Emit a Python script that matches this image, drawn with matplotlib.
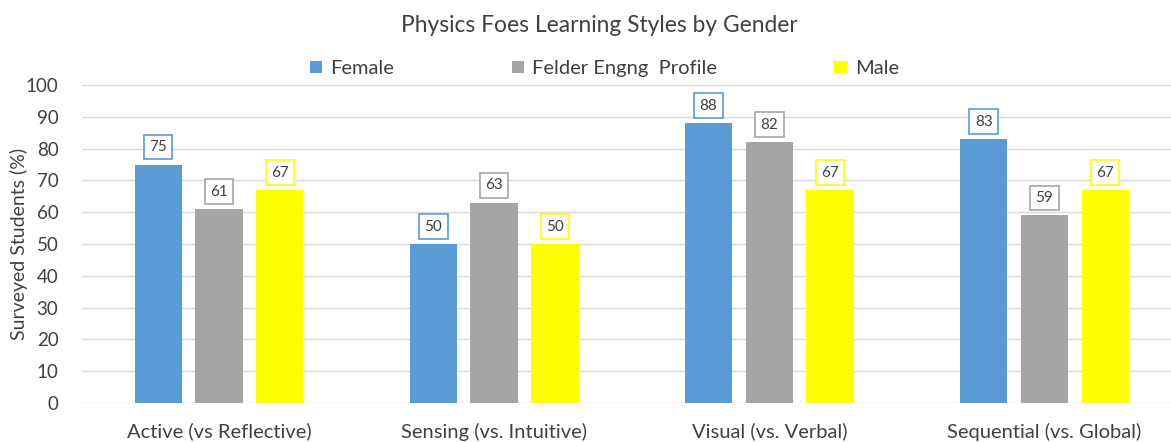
import numpy as np
import matplotlib.pyplot as plt

categories = ['Active (vs Reflective)', 'Sensing (vs. Intuitive)',
              'Visual (vs. Verbal)', 'Sequential (vs. Global)']
female = [75, 50, 88, 83]
felder = [61, 63, 82, 59]
male = [67, 50, 67, 67]
series_names = ['Female', 'Felder Engng  Profile', 'Male']
colors = ['#5b9bd5', '#a5a5a5', '#ffff00']

plt.rcParams['font.family'] = ['Lato', 'DejaVu Sans']

fig = plt.figure(figsize=(11.71, 4.42), dpi=100)
ax = fig.add_axes([82 / 1171, 39 / 442, 1 - 82 / 1171, 318 / 442])

x = np.arange(len(categories))
w = 0.172
off = 0.221
for i, (vals, name, c) in enumerate(zip([female, felder, male], series_names, colors)):
    pos = x + (i - 1) * off
    ax.bar(pos, vals, width=w, color=c, label=name, zorder=2)
    for px, v in zip(pos, vals):
        ax.annotate(str(v), (px, v), xytext=(0, 7.5), textcoords='offset points',
                    ha='center', va='bottom', fontsize=11, color='#404040',
                    bbox=dict(boxstyle='square,pad=0.35', fc='white', ec=c, lw=1.2))

ax.set_xlim(-0.498, 3.46)
ax.set_ylim(0, 100)
ax.set_yticks(range(0, 101, 10))
ax.set_xticks(x)
ax.set_xticklabels(categories, fontsize=14.5, color='#404040')
ax.tick_params(axis='y', labelsize=13.5, colors='#404040', length=0, pad=17)
ax.tick_params(axis='x', length=0, pad=14)
ax.grid(axis='y', color='#d9d9d9', lw=1, zorder=0)
for s in ax.spines.values():
    s.set_visible(False)
ax.set_ylabel('Surveyed Students (%)', fontsize=14, color='#404040')
ax.yaxis.set_label_coords(-0.0495, 0.5)

fig.suptitle('Physics Foes Learning Styles by Gender', x=0.5115, y=0.965,
             fontsize=16.4, color='#404040')
fig.legend(loc='center', bbox_to_anchor=(0.516, 0.845), ncol=3, frameon=False,
           fontsize=14.5, handlelength=0.6, handleheight=0.6, handletextpad=0.4,
           columnspacing=5.85, labelcolor='#404040')

fig.savefig('out.png', dpi=100)
